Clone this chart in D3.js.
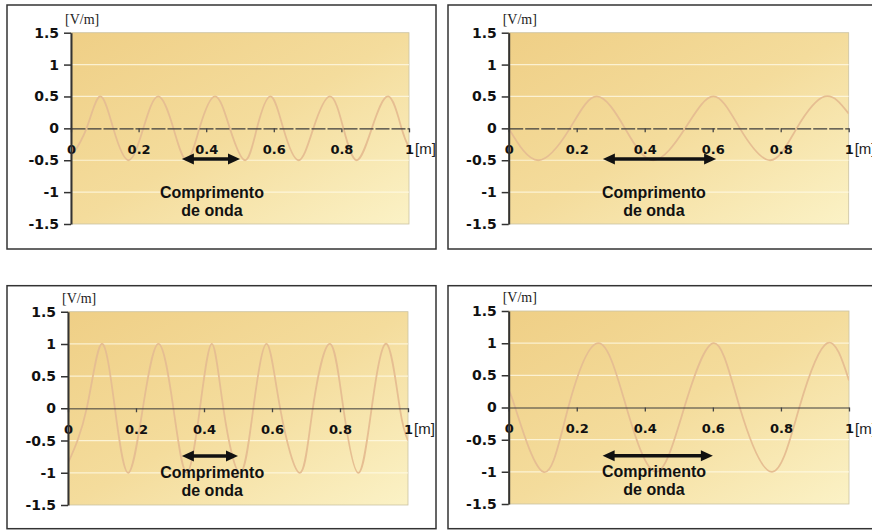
<!DOCTYPE html>
<html>
<head>
<meta charset="utf-8">
<script src="https://cdn.jsdelivr.net/npm/d3@7"></script>
<style>
  body { margin: 0; background: #fff; }
</style>
</head>
<body>
<script>
	// Dados
	var xTicks = [0, 0.2, 0.4, 0.6, 0.8, 1];
	var xTickLabels = ["0", "0.2", "0.4", "0.6", "0.8", "1"];
	var yTicks = [1.5, 1, 0.5, 0, -0.5, -1, -1.5];
	var yTickLabels = ["1.5", "1", "0.5", "0", "-0.5", "-1", "-1.5"];
	var gridLevels = [1, 0.5, -0.5, -1];

	// [x, y] em picos, vales e cruzamentos com zero
	var onda1 = [[0, -0.45], [0.046, 0], [0.086, 0.5], [0.125, 0], [0.17, -0.5], [0.214, 0],
	             [0.258, 0.5], [0.303, 0], [0.342, -0.5], [0.38, 0], [0.426, 0.5], [0.47, 0],
	             [0.515, -0.5], [0.55, 0], [0.59, 0.5], [0.628, 0], [0.673, -0.5], [0.717, 0],
	             [0.766, 0.5], [0.806, 0], [0.845, -0.5], [0.89, 0], [0.939, 0.5], [0.978, 0], [1, -0.3]];
	var onda2 = [[0, 0], [0.087, -0.5], [0.18, 0], [0.259, 0.5], [0.342, 0], [0.425, -0.5],
	             [0.519, 0], [0.602, 0.5], [0.68, 0], [0.769, -0.5], [0.847, 0], [0.93, 0.5], [1, 0.23]];
	var onda3 = [[0, -0.85], [0.055, 0], [0.099, 1], [0.138, 0], [0.177, -1], [0.22, 0],
	             [0.266, 1], [0.31, 0], [0.349, -1], [0.388, 0], [0.423, 1], [0.457, 0],
	             [0.506, -1], [0.545, 0], [0.584, 1], [0.624, 0], [0.682, -1], [0.72, 0],
	             [0.77, 1], [0.81, 0], [0.854, -1], [0.893, 0], [0.937, 1], [0.976, 0], [1, -0.5]];
	var onda4 = [[0, 0.23], [0.019, 0], [0.102, -1], [0.175, 0], [0.264, 1], [0.346, 0],
	             [0.433, -1], [0.516, 0], [0.603, 1], [0.679, 0], [0.774, -1], [0.854, 0], [0.936, 1], [1, 0.42]];

	// Setas: x inicial, x final, y
	var setas = [[0.328, 0.5, -0.48], [0.277, 0.61, -0.48], [0.335, 0.5, -0.74], [0.276, 0.6, -0.75]];
	var textoX = [0.417, 0.427, 0.424, 0.427];
	var textoY = [-1.0, -1.28];
	var textos = ["Comprimento", "de onda"];
	var unidadeY = "[V/m]";
	var unidadeX = "[m]";

	// Posicao de cada painel na pagina
	var paineis = [
		{caixa: [7, 5, 429, 244], area: [71, 32.7, 338, 191.3], onda: onda1, tracejado: "14,2"},
		{caixa: [448, 5, 440, 244], area: [508.7, 32.7, 340, 191.3], onda: onda2, tracejado: "14,2"},
		{caixa: [7, 285.7, 429, 243], area: [68, 311.7, 340, 193.3], onda: onda3, tracejado: null},
		{caixa: [448, 285.7, 440, 243], area: [508.7, 311, 340.3, 193], onda: onda4, tracejado: null}
	];

	var mySVG = d3.select("body").append("svg")
		.attr("width", 872)
		.attr("height", 530);

	var defs = mySVG.append("defs");
	var grad = defs.append("linearGradient")
		.attr("id", "fundo")
		.attr("x1", 0).attr("y1", 0).attr("x2", 1).attr("y2", 1);
	grad.append("stop").attr("offset", 0).attr("stop-color", "#efcf86");
	grad.append("stop").attr("offset", 0.5).attr("stop-color", "#f4dc9c");
	grad.append("stop").attr("offset", 1).attr("stop-color", "#fbf2c6");

	paineis.forEach(function(p, i) {
		var cx = p.caixa, a = p.area;

		var xScale = d3.scaleLinear().domain([0, 1]).range([a[0], a[0] + a[2]]);
		var yScale = d3.scaleLinear().domain([-1.5, 1.5]).range([a[1] + a[3], a[1]]);

		// Recortes
		defs.append("clipPath").attr("id", "caixa" + i)
			.append("rect").attr("x", cx[0]).attr("y", cx[1]).attr("width", cx[2]).attr("height", cx[3]);
		defs.append("clipPath").attr("id", "area" + i)
			.append("rect").attr("x", a[0]).attr("y", a[1]).attr("width", a[2]).attr("height", a[3]);

		var g = mySVG.append("g").attr("clip-path", "url(#caixa" + i + ")");

		// Caixa e fundo
		g.append("rect")
			.attr("x", cx[0]).attr("y", cx[1]).attr("width", cx[2]).attr("height", cx[3])
			.attr("fill", "#fff");
		g.append("rect")
			.attr("x", a[0]).attr("y", a[1]).attr("width", a[2]).attr("height", a[3])
			.attr("fill", "url(#fundo)")
			.attr("stroke", "#cbc2a2")
			.attr("stroke-width", 0.8);

		// Grade
		g.selectAll(".grade")
			.data(gridLevels)
			.enter()
			.append("line")
			.attr("x1", a[0]).attr("x2", a[0] + a[2])
			.attr("y1", function(d) { return yScale(d); })
			.attr("y2", function(d) { return yScale(d); })
			.attr("stroke", "#fffbe8")
			.attr("stroke-opacity", 0.75)
			.attr("stroke-width", 1.2);

		// Onda
		var myLine = d3.line()
			.curve(d3.curveNatural)
			.x(function(d) { return xScale(d[0]); })
			.y(function(d) { return yScale(d[1]); });
		g.append("path")
			.datum(p.onda)
			.attr("clip-path", "url(#area" + i + ")")
			.attr("fill", "none")
			.attr("stroke", "#e6be92")
			.attr("stroke-width", 1.8)
			.attr("d", myLine);

		// Eixo x na linha do zero
		var xAxis = d3.axisBottom(xScale)
			.tickValues(xTicks)
			.tickFormat(function(d, k) { return xTickLabels[k]; })
			.tickSize(4)
			.tickSizeOuter(0)
			.tickPadding(12);
		var xAxisGroup = g.append("g")
			.attr("transform", "translate(0," + yScale(0) + ")")
			.call(xAxis);
		xAxisGroup.select(".domain")
			.attr("stroke", "#3c3c3c")
			.attr("stroke-width", p.tracejado ? 1.4 : 1)
			.attr("stroke-dasharray", p.tracejado);
		xAxisGroup.selectAll(".tick line").attr("stroke", "#444").attr("stroke-width", 1.3);
		xAxisGroup.selectAll(".tick text")
			.attr("fill", "#111")
			.style("font-family", "DejaVu Sans")
			.style("font-weight", "bold")
			.style("font-size", "13px");

		g.append("text")
			.attr("x", xScale(1) + 6)
			.attr("y", yScale(0) + 26)
			.attr("fill", "#222")
			.style("font-family", "Liberation Sans")
			.style("font-size", "15px")
			.text(unidadeX);

		// Eixo y
		var yAxis = d3.axisLeft(yScale)
			.tickValues(yTicks)
			.tickFormat(function(d, k) { return yTickLabels[k]; })
			.tickSize(7)
			.tickSizeOuter(0)
			.tickPadding(5);
		var yAxisGroup = g.append("g")
			.attr("transform", "translate(" + a[0] + ",0)")
			.call(yAxis);
		yAxisGroup.select(".domain").attr("stroke", "#333").attr("stroke-width", 2);
		yAxisGroup.selectAll(".tick line").attr("stroke", "#333").attr("stroke-width", 1.5);
		yAxisGroup.selectAll(".tick text")
			.attr("fill", "#111")
			.style("font-family", "DejaVu Sans")
			.style("font-weight", "bold")
			.style("font-size", "14px");

		g.append("text")
			.attr("x", a[0] - 6)
			.attr("y", a[1] - 9)
			.attr("fill", "#222")
			.style("font-family", "Liberation Serif")
			.style("font-size", "14px")
			.text(unidadeY);

		// Seta do comprimento de onda
		var s = setas[i];
		var xa = xScale(s[0]), xb = xScale(s[1]), ys = yScale(s[2]);
		g.append("line")
			.attr("x1", xa + 8).attr("x2", xb - 8)
			.attr("y1", ys).attr("y2", ys)
			.attr("stroke", "#111")
			.attr("stroke-width", 3.5);
		g.selectAll(".ponta")
			.data([[xa, 1], [xb, -1]])
			.enter()
			.append("path")
			.attr("fill", "#111")
			.attr("d", function(d) {
				return "M" + d[0] + "," + ys + "L" + (d[0] + 12 * d[1]) + "," + (ys - 5.5) +
					"L" + (d[0] + 12 * d[1]) + "," + (ys + 5.5) + "Z";
			});

		g.selectAll(".rotulo")
			.data(textos)
			.enter()
			.append("text")
			.attr("x", xScale(textoX[i]))
			.attr("y", function(d, k) { return yScale(textoY[k]); })
			.attr("dy", "0.35em")
			.attr("text-anchor", "middle")
			.attr("fill", "#111")
			.style("font-family", "Liberation Sans")
			.style("font-weight", "bold")
			.style("font-size", "16px")
			.text(function(d) { return d; });

		// Contorno da caixa
		mySVG.append("rect")
			.attr("x", cx[0]).attr("y", cx[1]).attr("width", cx[2]).attr("height", cx[3])
			.attr("fill", "none")
			.attr("stroke", "#333")
			.attr("stroke-width", 1.5);
	});
</script>
</body>
</html>
